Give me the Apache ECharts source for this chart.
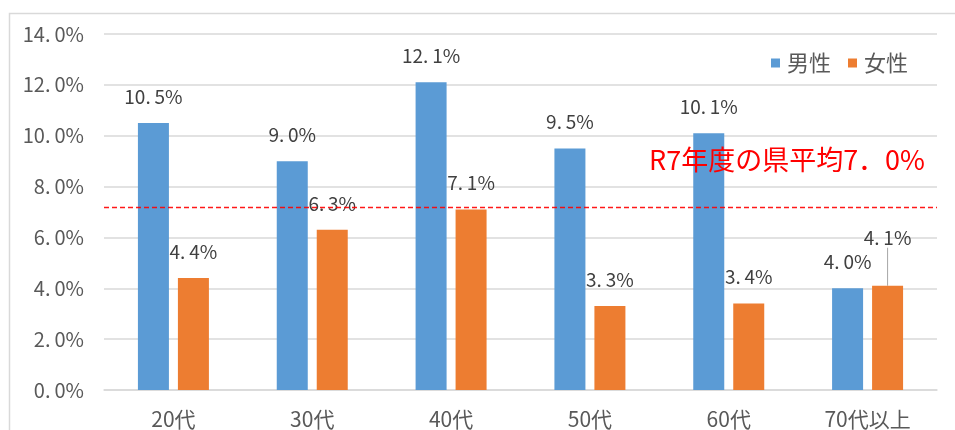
<!DOCTYPE html>
<html>
<head>
<meta charset="utf-8">
<script src="https://cdn.jsdelivr.net/npm/echarts@6/dist/echarts.min.js"></script>
<style>
  html, body { margin: 0; padding: 0; background: #fff; }
  #main { width: 955px; height: 430px; }
</style>
</head>
<body>
<div id="main"></div>
<script>
// 年代別の割合（男性・女性）
const categories = ['20代', '30代', '40代', '50代', '60代', '70代以上'];
const maleValues = [10.5, 9.0, 12.1, 9.5, 10.1, 4.0];
const femaleValues = [4.4, 6.3, 7.1, 3.3, 3.4, 4.1];
const avgLine = [7.2]; // 県平均の線（図から読んだ位置）
const avgText = 'R7年度の県平均7．0%';

const font = '"Noto Sans CJK JP", "Noto Sans", sans-serif';
const pct = v => v.toFixed(1).replace('.', '.\u2009') + '%';

const labelStyle = {
  show: true,
  position: 'top',
  distance: 17,
  color: '#404040',
  fontSize: 19,
  fontFamily: font,
  formatter: p => pct(p.value)
};

let myChart = echarts.init(document.getElementById('main'));
myChart.setOption({
  animation: false,
  textStyle: { fontFamily: font },
  title: {
    text: avgText,
    left: 644,
    top: 141,
    textStyle: { color: '#ff0000', fontSize: 27, fontWeight: 'normal', fontFamily: font }
  },
  graphic: [
    // 外枠
    {
      type: 'rect',
      left: 7, top: 11,
      shape: { width: 1000, height: 500 },
      style: { fill: 'none', stroke: '#d9d9d9', lineWidth: 1.5 },
      silent: true
    }
  ],
  legend: {
    right: 42,
    top: 47,
    itemWidth: 9,
    itemHeight: 9,
    itemGap: 17,
    icon: 'rect',
    textStyle: { color: '#595959', fontSize: 22, fontFamily: font, padding: [0, 0, 0, 2] },
    data: ['男性', '女性']
  },
  grid: { left: 104, right: 18, top: 34, bottom: 40 },
  xAxis: {
    type: 'category',
    data: categories,
    axisTick: { show: false },
    axisLine: { lineStyle: { color: '#d9d9d9', width: 1.5 } },
    axisLabel: { color: '#595959', fontSize: 21, margin: 19, fontFamily: font }
  },
  yAxis: {
    type: 'value',
    min: 0,
    max: 14,
    interval: 2,
    axisLine: { show: false },
    axisTick: { show: false },
    splitLine: { lineStyle: { color: '#d9d9d9', width: 1.5 } },
    axisLabel: { color: '#595959', fontSize: 20, margin: 20, fontFamily: font, formatter: pct }
  },
  series: [
    {
      name: '男性',
      type: 'bar',
      data: maleValues,
      barWidth: 31,
      barGap: '29%',
      itemStyle: { color: '#5b9bd5' },
      label: labelStyle,
      markLine: {
        silent: true,
        symbol: 'none',
        label: { show: false },
        lineStyle: { color: '#ff0000', type: [5, 3], width: 1.3, opacity: 0.9 },
        emphasis: { disabled: true },
        data: avgLine.map(v => ({ yAxis: v }))
      }
    },
    {
      name: '女性',
      type: 'bar',
      data: femaleValues.map((v, i) => i === femaleValues.length - 1
        ? { value: v, labelLine: { show: true, lineStyle: { color: '#a6a6a6', width: 1 } } }
        : v),
      barWidth: 31,
      itemStyle: { color: '#ed7d31' },
      label: labelStyle,
      labelLayout: p => (p.dataIndex === femaleValues.length - 1 ? { dy: -21 } : {})
    }
  ]
});
window.onresize = function () {
  myChart.resize();
};
</script>
</body>
</html>
